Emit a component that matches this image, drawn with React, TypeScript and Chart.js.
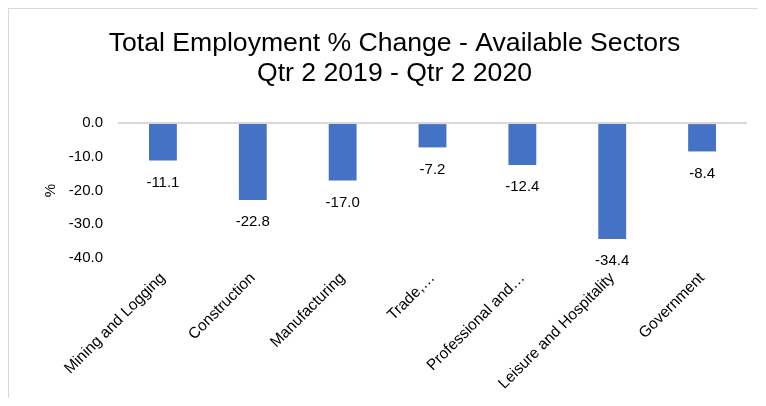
import React, { useEffect, useRef } from 'react';
import { Chart, registerables } from 'chart.js';

Chart.register(...registerables);

const categories = [
  'Mining and Logging',
  'Construction',
  'Manufacturing',
  'Trade,…',
  'Professional and…',
  'Leisure and Hospitality',
  'Government',
];
const values = [-11.1, -22.8, -17.0, -7.2, -12.4, -34.4, -8.4];
const yMin = -40;
const yMax = 0;
const yStep = 10;
const titleLines = ['Total Employment % Change - Available Sectors', 'Qtr 2 2019 - Qtr 2 2020'];
const yAxisTitle = '%';

const FONT = "Arial, 'Liberation Sans', sans-serif";

const dataLabelPlugin = {
  id: 'dataLabels',
  afterDatasetsDraw(chart: any) {
    const ctx = chart.ctx;
    const meta = chart.getDatasetMeta(0);
    ctx.save();
    ctx.font = `15px ${FONT}`;
    ctx.fillStyle = '#000';
    ctx.textAlign = 'center';
    ctx.textBaseline = 'middle';
    meta.data.forEach((bar: any, i: number) => {
      ctx.fillText(values[i].toFixed(1), bar.x, bar.y + 22);
    });
    ctx.restore();
  },
};

export default function App() {
  const ref = useRef<HTMLCanvasElement | null>(null);

  useEffect(() => {
    if (!ref.current) return;
    const chart = new Chart(ref.current, {
      type: 'bar',
      data: {
        labels: categories,
        datasets: [
          {
            data: values,
            backgroundColor: '#4472C4',
            barPercentage: 0.31,
            categoryPercentage: 1.0,
          },
        ],
      },
      options: {
        responsive: false,
        animation: false,
        devicePixelRatio: 1,
        layout: { padding: { left: 33, right: 34, top: 0, bottom: 0 } },
        plugins: {
          legend: { display: false },
          tooltip: { enabled: false },
          title: {
            display: true,
            text: titleLines,
            color: '#000',
            font: { family: FONT, size: 26.6, weight: 'normal', lineHeight: 1.13 },
            padding: { top: 20, bottom: 34 },
          },
        },
        scales: {
          x: {
            grid: { display: false },
            border: { display: false },
            ticks: {
              autoSkip: false,
              minRotation: 45,
              maxRotation: 45,
              color: '#000',
              font: { family: FONT, size: 15.5 },
              padding: 3,
            },
            afterFit: (s: any) => {
              s.height = 151;
            },
          },
          y: {
            min: yMin,
            max: yMax,
            ticks: {
              stepSize: yStep,
              color: '#000',
              font: { family: FONT, size: 15 },
              padding: 15,
              callback: (v: any) => Number(v).toFixed(1),
            },
            grid: {
              drawTicks: false,
              lineWidth: 2,
              color: (c: any) => (c.tick && c.tick.value === 0 ? '#d9d9d9' : 'rgba(0,0,0,0)'),
            },
            border: { display: false },
            title: {
              display: true,
              text: yAxisTitle,
              color: '#000',
              font: { family: FONT, size: 15 },
              padding: { top: 0, bottom: 0 },
            },
            afterFit: (s: any) => {
              s.width = 76;
            },
          },
        },
      } as any,
      plugins: [dataLabelPlugin],
    });
    return () => chart.destroy();
  }, []);

  return (
    <div
      style={{
        width: 757,
        height: 389,
        overflow: 'hidden',
        borderTop: '1px solid #d9d9d9',
        borderLeft: '1px solid #d9d9d9',
        background: '#fff',
      }}
    >
      <canvas ref={ref} width={772} height={400} style={{ display: 'block', width: 772, height: 400 }} />
    </div>
  );
}
